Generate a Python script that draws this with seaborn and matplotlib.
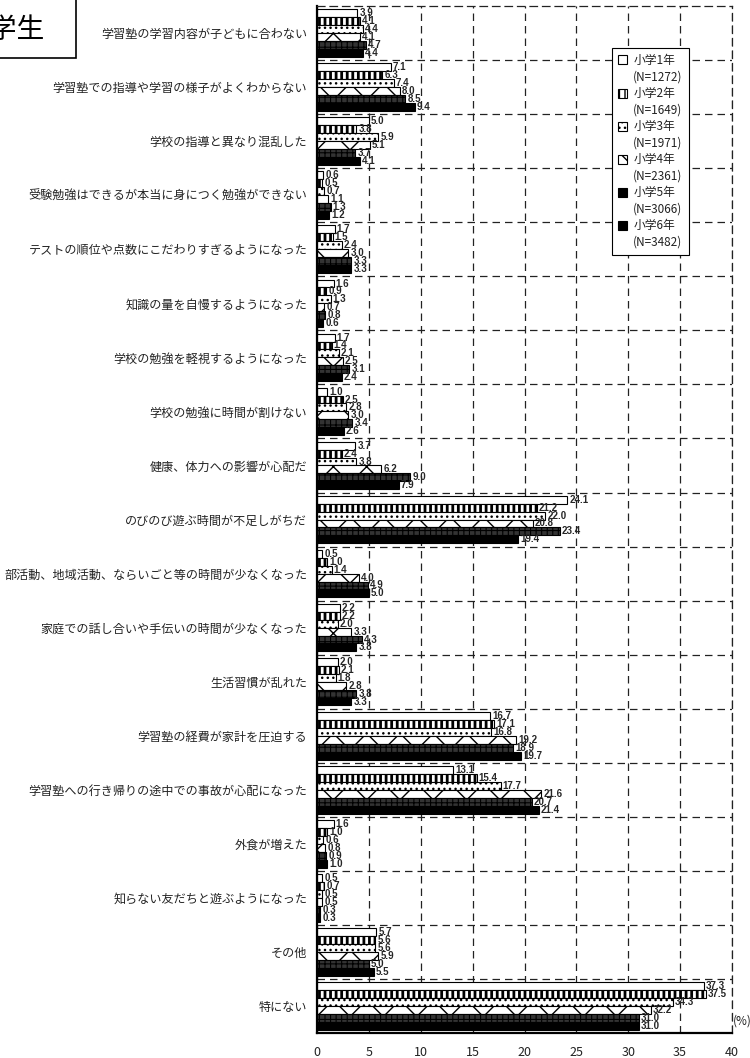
import numpy as np
import pandas as pd
import matplotlib
matplotlib.use('Agg')
import matplotlib.pyplot as plt
from matplotlib.patches import Patch, Rectangle
import seaborn as sns

# data (%)
items = [
    '学習塾の学習内容が子どもに合わない',
    '学習塾での指導や学習の様子がよくわからない',
    '学校の指導と異なり混乱した',
    '受験勉強はできるが本当に身につく勉強ができない',
    'テストの順位や点数にこだわりすぎるようになった',
    '知識の量を自慢するようになった',
    '学校の勉強を軽視するようになった',
    '学校の勉強に時間が割けない',
    '健康、体力への影響が心配だ',
    'のびのび遊ぶ時間が不足しがちだ',
    '部活動、地域活動、ならいごと等の時間が少なくなった',
    '家庭での話し合いや手伝いの時間が少なくなった',
    '生活習慣が乱れた',
    '学習塾の経費が家計を圧迫する',
    '学習塾への行き帰りの途中での事故が心配になった',
    '外食が増えた',
    '知らない友だちと遊ぶようになった',
    'その他',
    '特にない',
]
grades = ['小学1年', '小学2年', '小学3年', '小学4年', '小学5年', '小学6年']
n_counts = ['1272', '1649', '1971', '2361', '3066', '3482']

g1 = [3.9, 7.1, 5.0, 0.6, 1.7, 1.6, 1.7, 1.0, 3.7, 24.1, 0.5, 2.2, 2.0, 16.7, 13.1, 1.6, 0.5, 5.7, 37.3]
g2 = [4.1, 6.3, 3.8, 0.5, 1.5, 0.9, 1.4, 2.5, 2.4, 21.2, 1.0, 2.2, 2.1, 17.1, 15.4, 1.0, 0.7, 5.6, 37.5]
g3 = [4.4, 7.4, 5.9, 0.7, 2.4, 1.3, 2.1, 2.8, 3.8, 22.0, 1.4, 2.0, 1.8, 16.8, 17.7, 0.6, 0.5, 5.6, 34.3]
g4 = [4.1, 8.0, 5.1, 1.1, 3.0, 0.7, 2.5, 3.0, 6.2, 20.8, 4.0, 3.3, 2.8, 19.2, 21.6, 0.8, 0.5, 5.9, 32.2]
g5 = [4.7, 8.5, 3.7, 1.3, 3.3, 0.8, 3.1, 3.4, 9.0, 23.4, 4.9, 4.3, 3.8, 18.9, 20.7, 0.9, 0.3, 5.0, 31.0]
g6 = [4.4, 9.4, 4.1, 1.2, 3.3, 0.6, 2.4, 2.6, 7.9, 19.4, 5.0, 3.8, 3.3, 19.7, 21.4, 1.0, 0.3, 5.5, 31.0]
series = [g1, g2, g3, g4, g5, g6]

x_ticks = [0, 5, 10, 15, 20, 25, 30, 35, 40]

rows = []
for grade, vals in zip(grades, series):
    for item, v in zip(items, vals):
        rows.append({'item': item, 'grade': grade, 'pct': v})
df = pd.DataFrame(rows)

sns.set_theme(style='white')
plt.rcParams['font.family'] = ['Noto Sans CJK JP', 'DejaVu Sans']
plt.rcParams['hatch.linewidth'] = 1.0

# fill / hatch style for each grade
styles = [
    dict(fc='white', hatch='', hc='black', hlw=1.0),
    dict(fc='white', hatch='|||', hc='black', hlw=2.0),
    dict(fc='white', hatch='...', hc='black', hlw=1.0),
    dict(fc='white', hatch='x', hc='black', hlw=1.0),
    dict(fc='black', hatch='+++', hc='white', hlw=0.8),
    dict(fc='black', hatch='', hc='black', hlw=1.0),
]


def style_patch(p, st):
    p.set_facecolor(st['fc'])
    p.set_edgecolor('black')
    p.set_hatch(st['hatch'] or None)
    if hasattr(p, 'set_hatchcolor'):
        p.set_hatchcolor(st['hc'])
    elif st['hc'] == 'white':
        p.set_facecolor('#333333')
    if hasattr(p, 'set_hatch_linewidth'):
        p.set_hatch_linewidth(st['hlw'])


fig = plt.figure(figsize=(7.5, 10.58), dpi=100)
ax = fig.add_axes([0.4227, 0.0236, 0.5533, 0.9707])

sns.barplot(data=df, x='pct', y='item', hue='grade', orient='h', order=items,
            hue_order=grades, width=0.88, palette=['white'] * 6,
            edgecolor='black', linewidth=0.8, errorbar=None, legend=False, ax=ax)

for cont, st, vals in zip(ax.containers, styles, series):
    for p in cont:
        style_patch(p, st)
    ax.bar_label(cont, labels=[f'{v:.1f}' for v in vals], padding=1.5,
                 fontsize=7, fontweight='bold',
                 family=['Liberation Sans Narrow', 'Liberation Sans', 'DejaVu Sans'])

ax.set_xlim(0, 40)
ax.set_xticks(x_ticks)
ax.set_xticklabels([str(t) for t in x_ticks])
ax.set_axisbelow(True)
ax.grid(axis='x', color='#222222', linestyle=(0, (6, 4)), linewidth=0.9)
ax.grid(axis='y', visible=False)
for i in range(len(items) - 1):
    ax.axhline(i + 0.5, color='#222222', linestyle=(0, (6, 4)), linewidth=0.9, zorder=0.5)

for side in ['left', 'bottom']:
    ax.spines[side].set_color('black')
    ax.spines[side].set_linewidth(1.6)
for side in ['top', 'right']:
    ax.spines[side].set_color('#222222')
    ax.spines[side].set_linewidth(0.9)
    ax.spines[side].set_linestyle((0, (6, 4)))

ax.tick_params(axis='x', length=0, pad=9, labelsize=9, labelcolor='#222222')
ax.tick_params(axis='y', length=0, pad=7, labelsize=8.7, labelcolor='#222222')
ax.set_xlabel('')
ax.set_ylabel('')

ax.text(1.003, 0.012, '(%)', transform=ax.transAxes, fontsize=8.5, ha='left', va='center',
        color='#222222')

# legend: handle on the grade line, N on the line below
handles, labels = [], []
for st, g, n in zip(styles, grades, n_counts):
    h = Patch(facecolor=st['fc'], edgecolor='black', hatch=st['hatch'] or None, linewidth=0.8)
    handles.append(h)
    labels.append(g)
    handles.append(Patch(facecolor='none', edgecolor='none'))
    labels.append(f'(N={n})')
leg = ax.legend(handles, labels, loc='upper left', bbox_to_anchor=(0.711, 0.959),
                fontsize=8.5, frameon=True, fancybox=False, edgecolor='black',
                framealpha=1, handlelength=0.8, handleheight=0.8, handletextpad=0.5,
                labelspacing=0.3, borderpad=0.5, borderaxespad=0)
leg.get_frame().set_linewidth(0.8)
for t in leg.get_texts():
    t.set_color('#222222')

# title box in the upper left corner (cut off by the page edge, as in the source)
fig.patches.append(Rectangle((-60 / 750, 1 - 58 / 1058), 136 / 750, 80 / 1058,
                             transform=fig.transFigure, facecolor='white',
                             edgecolor='black', linewidth=1.2))
fig.text(44 / 750, 1 - 30 / 1058, '小学生', fontsize=20, ha='right', va='center',
         color='black')

fig.savefig('out.png', dpi=100)
